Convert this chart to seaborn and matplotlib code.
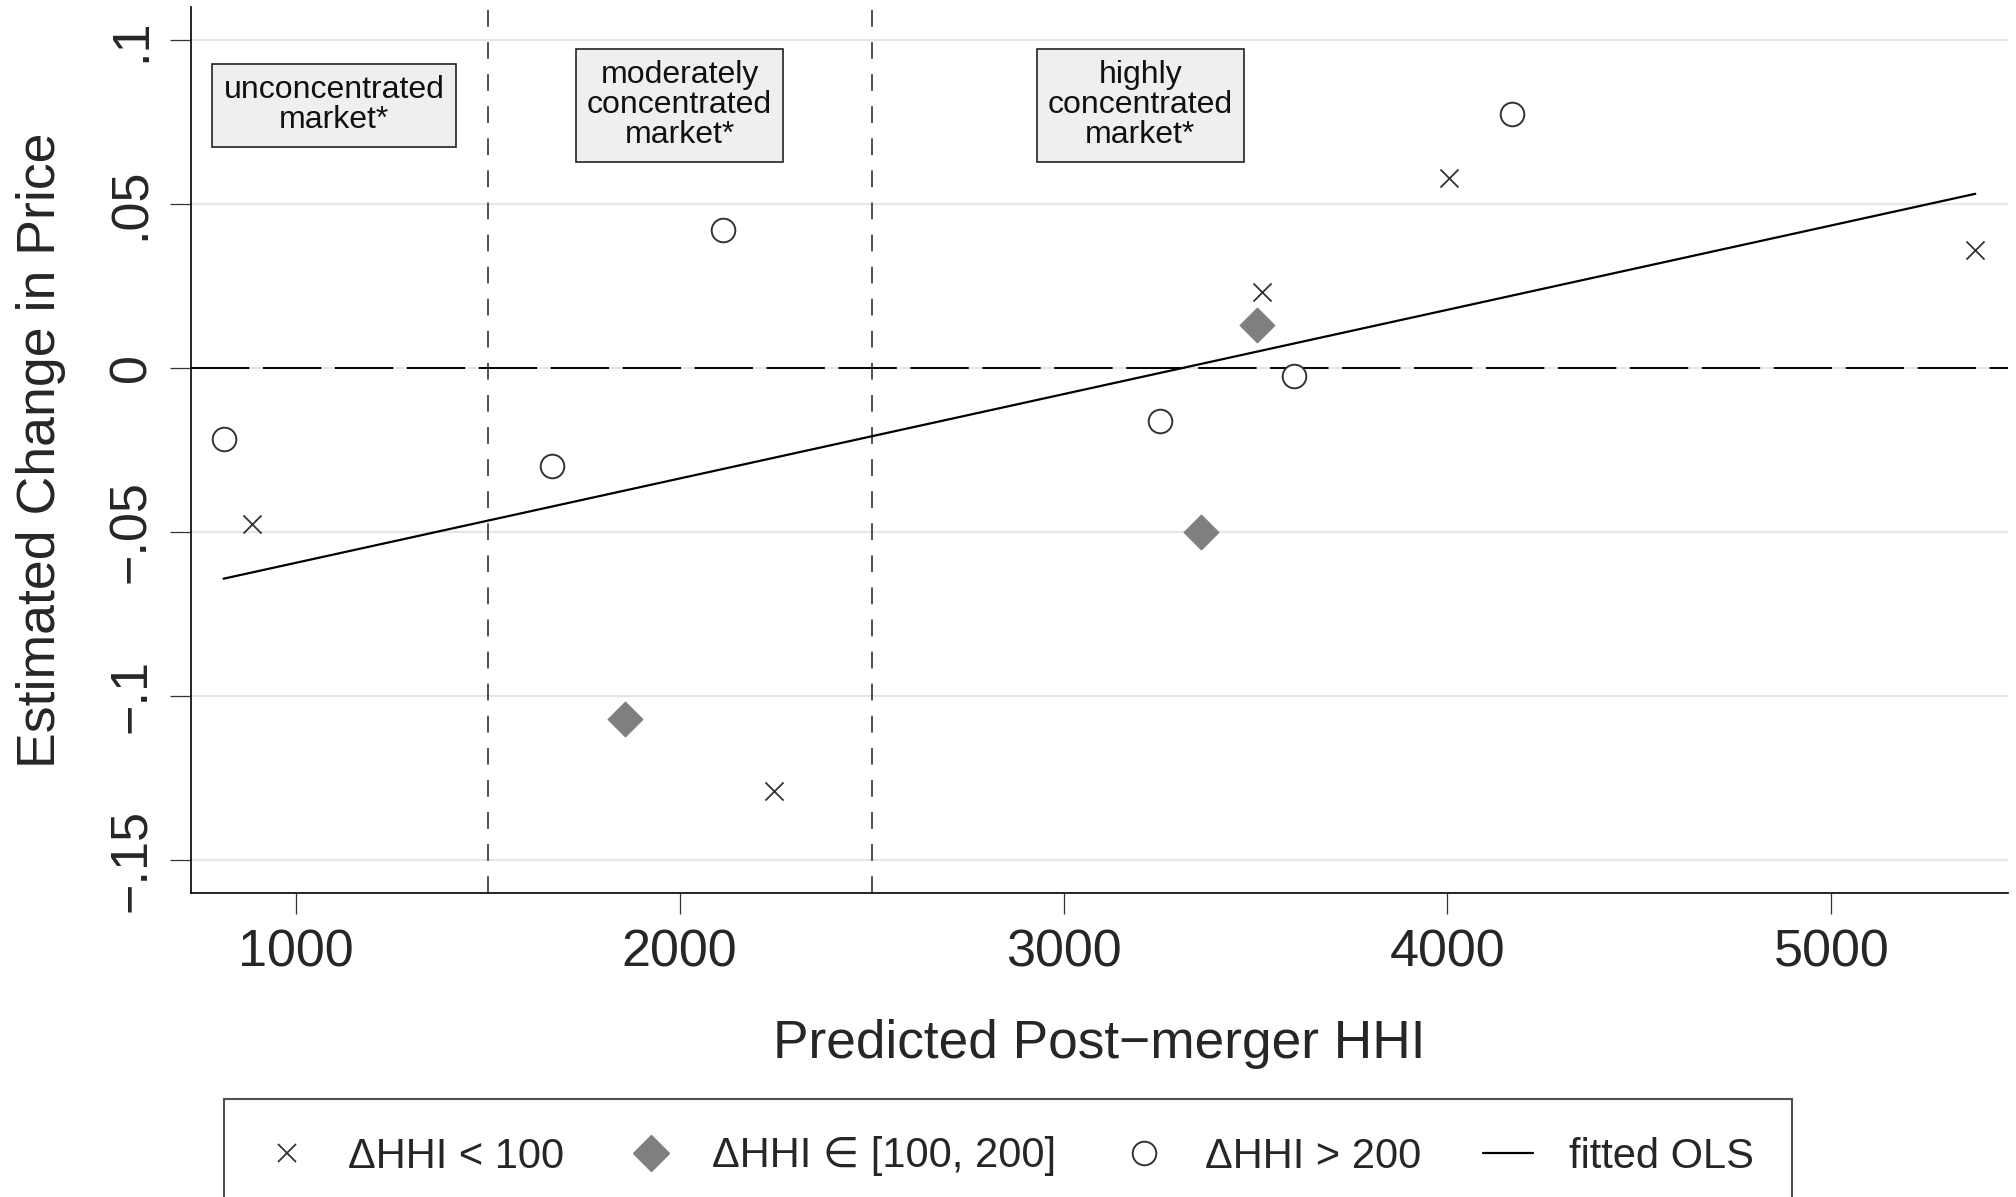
import numpy as np
import pandas as pd
import seaborn as sns
import matplotlib.pyplot as plt
from matplotlib.lines import Line2D

# values
hhi_small = [886, 2246, 3516, 4005, 5375]          # ΔHHI < 100
dp_small = [-0.0475, -0.129, 0.023, 0.058, 0.036]
hhi_mid = [1858, 3358, 3503]                        # ΔHHI in [100, 200]
dp_mid = [-0.107, -0.050, 0.013]
hhi_large = [812, 1667, 2112, 3251, 3600, 4169]     # ΔHHI > 200
dp_large = [-0.0216, -0.0298, 0.042, -0.0161, -0.0024, 0.0773]

group_labels = ['ΔHHI < 100', 'ΔHHI ∈ [100, 200]', 'ΔHHI > 200', 'fitted OLS']
region_labels = ['unconcentrated\nmarket*', 'moderately\nconcentrated\nmarket*',
                 'highly\nconcentrated\nmarket*']
region_x = [1100, 2000, 3200]
thresholds = [1500, 2500]
xticks = [1000, 2000, 3000, 4000, 5000]
yticks = [-0.15, -0.1, -0.05, 0, 0.05, 0.1]
ytick_labels = ['−.15', '−.1', '−.05', '0', '.05', '.1']

df = pd.DataFrame({
    'hhi': hhi_small + hhi_mid + hhi_large,
    'dp': dp_small + dp_mid + dp_large,
    'grp': ['small'] * len(hhi_small) + ['mid'] * len(hhi_mid) + ['large'] * len(hhi_large),
})

# OLS fit over all mergers
slope, intercept = np.polyfit(df['hhi'], df['dp'], 1)
fit_x = np.array([df['hhi'].min(), df['hhi'].max()])
fit_y = intercept + slope * fit_x

sns.set_style('ticks')
plt.rcParams['font.family'] = ['Liberation Sans', 'DejaVu Sans']

fig = plt.figure(figsize=(20.16, 11.97), dpi=100)
ax = fig.add_axes([0.0947, 0.254, 0.9013, 0.7402])

ax.yaxis.grid(True, color='#e6e6e6', lw=1.5)
ax.set_axisbelow(True)

ax.axhline(0, color='black', lw=1.4, ls=(0, (30, 7)), zorder=1.5)
for t in thresholds:
    ax.axvline(t, color='#222222', lw=1.1, ls=(0, (11, 10)), zorder=1.5)

sns.lineplot(x=fit_x, y=fit_y, color='black', lw=1.6, ax=ax, zorder=2)

sns.scatterplot(data=df[df.grp == 'small'], x='hhi', y='dp', marker='x', s=13 ** 2,
                color='#333333', linewidth=1.3, ax=ax, legend=False, zorder=3)
sns.scatterplot(data=df[df.grp == 'mid'], x='hhi', y='dp', marker='D', s=18 ** 2,
                color='#7f7f7f', edgecolor='#7f7f7f', linewidth=0.5, ax=ax,
                legend=False, zorder=3)
sns.scatterplot(data=df[df.grp == 'large'], x='hhi', y='dp', marker='o', s=17 ** 2,
                facecolor='white', edgecolor='#333333', linewidth=1.4, ax=ax,
                legend=False, zorder=3)

for x, lab in zip(region_x, region_labels):
    ax.text(x, 0.08, lab, ha='center', va='center', fontsize=23, linespacing=1.0,
            color='#111111',
            bbox=dict(boxstyle='square,pad=0.35', fc='#efefef', ec='#222222', lw=1.2))

ax.set_xlim(727, 5460)
ax.set_ylim(-0.16, 0.11)
ax.set_xticks(xticks)
ax.set_yticks(yticks)
ax.set_yticklabels(ytick_labels, rotation=90, va='center')
ax.tick_params(axis='both', length=15, width=0.9, color='#333333', labelsize=37.5)
ax.tick_params(axis='y', pad=10)
ax.tick_params(axis='x', pad=10.5)

ax.set_xlabel('Predicted Post−merger HHI', fontsize=38.3, labelpad=30)
ax.set_ylabel('Estimated Change in Price', fontsize=38.6, labelpad=30)

sns.despine(ax=ax)
for side in ['left', 'bottom']:
    ax.spines[side].set_color('black')
    ax.spines[side].set_linewidth(1.2)

handles = [
    Line2D([], [], marker='x', ls='none', color='#333333', markersize=13, mew=1.3),
    Line2D([], [], marker='D', ls='none', color='#7f7f7f', markersize=18),
    Line2D([], [], marker='o', ls='none', mfc='white', mec='#333333', markersize=17, mew=1.4),
    Line2D([], [], color='black', lw=1.6),
]
leg = fig.legend(handles, group_labels, loc='upper center', bbox_to_anchor=(0.5, 1 - 1099 / 1197),
                 ncol=4, fontsize=30, frameon=True, fancybox=False, edgecolor='#222222',
                 handlelength=1.2, handletextpad=0.86, columnspacing=1.5, borderpad=0.9,
                 borderaxespad=0)
leg.get_frame().set_linewidth(1.5)

fig.savefig('out.png', dpi=100)
